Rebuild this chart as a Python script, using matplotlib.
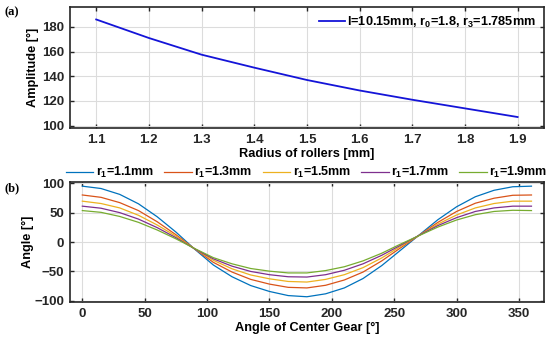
import matplotlib
matplotlib.use("Agg")
import matplotlib.pyplot as plt

# (a) amplitude vs roller radius
radius = [1.1, 1.2, 1.3, 1.4, 1.5, 1.6, 1.7, 1.8, 1.9]
amplitude = [186, 171, 157.5, 147, 137, 128.5, 121, 114, 107]

# (b) output angle vs centre gear angle
gear_angle = [0, 15, 30, 45, 60, 75, 90, 105, 120, 135, 150, 165, 180,
              195, 210, 225, 240, 255, 270, 285, 300, 315, 330, 345, 360]
ang_11 = [95, 91, 81, 65, 43, 17, -12, -39, -59, -74, -84, -91, -93,
          -88, -78, -62, -40, -14, 12, 38, 60, 77, 88, 94, 95]
ang_13 = [80, 76, 67, 53.5, 34.5, 12.5, -11.5, -34.5, -51, -63.5, -71.5, -77, -78,
          -73.5, -64.5, -51, -32, -10, 11.5, 33.5, 52, 66, 74.5, 79.5, 80]
ang_15 = [69.5, 65.5, 58, 45.5, 29, 10, -11.5, -31, -45.5, -56, -62.5, -67, -68,
          -63.5, -55.5, -43.5, -27, -7.5, 11.5, 30.5, 46, 58, 65.5, 69.5, 69.5]
ang_17 = [61, 57.5, 50, 39, 24.5, 7.5, -11.5, -28.5, -41, -50, -55.5, -59, -59.5,
          -55.5, -48, -37, -22.5, -5.5, 11.5, 28, 41.5, 52, 58, 61, 61]
ang_19 = [53.5, 50.5, 43.5, 33.5, 20.5, 5.5, -11, -26.5, -37, -45, -49.5, -52.5, -52.5,
          -48.5, -42, -32, -19, -3.5, 11, 25.5, 37.5, 46.5, 52, 54, 53.5]
series_b = [ang_11, ang_13, ang_15, ang_17, ang_19]
labels_b = ['1.1', '1.3', '1.5', '1.7', '1.9']
colors_b = ['#0072bd', '#d95319', '#edb120', '#7e2f8e', '#77ac30']

plt.rcParams['font.family'] = ['Liberation Sans', 'DejaVu Sans']
plt.rcParams['font.weight'] = 'bold'
plt.rcParams['axes.labelweight'] = 'bold'
plt.rcParams['mathtext.fontset'] = 'custom'
plt.rcParams['mathtext.rm'] = 'Liberation Sans:bold'
plt.rcParams['mathtext.bf'] = 'Liberation Sans:bold'
plt.rcParams['mathtext.default'] = 'bf'

fig = plt.figure(figsize=(5.5, 3.39), dpi=100)
ax1 = fig.add_axes([0.127, 0.622, 0.862, 0.357])
ax2 = fig.add_axes([0.127, 0.109, 0.862, 0.354])

def style(ax):
    ax.tick_params(direction='in', top=True, right=True, labelsize=9.5,
                   length=3, width=1, colors='#262626', pad=4)
    for lab in ax.get_xticklabels() + ax.get_yticklabels():
        lab.set_fontweight('bold')
    for s in ax.spines.values():
        s.set_linewidth(1.2)
        s.set_color('#262626')
    ax.grid(True, color='#dcdcdc', linewidth=0.8)
    ax.set_axisbelow(True)

ax1.plot(radius, amplitude, color='#1414d8', lw=1.3,
         label='l=10.15mm, r$_0$=1.8, r$_3$=1.785mm')
ax1.set_xlim(1.05, 1.95)
ax1.set_ylim(98, 196)
ax1.set_xticks([1.1, 1.2, 1.3, 1.4, 1.5, 1.6, 1.7, 1.8, 1.9])
ax1.set_yticks([100, 120, 140, 160, 180])
ax1.set_xlabel('Radius of rollers [mm]', fontsize=9.2, labelpad=2)
ax1.set_ylabel('Amplitude [°]', fontsize=9.2, labelpad=2)
ax1.legend(loc='upper right', frameon=False, fontsize=9.2, handlelength=2.0,
           handletextpad=0.2, borderaxespad=0.2)
style(ax1)

for vals, lab, c in zip(series_b, labels_b, colors_b):
    ax2.plot(gear_angle, vals, color=c, lw=0.9, label='r$_1$=' + lab + 'mm')
ax2.set_xlim(-10, 370)
ax2.set_ylim(-102, 102)
ax2.set_xticks([0, 50, 100, 150, 200, 250, 300, 350])
ax2.set_yticks([-100, -50, 0, 50, 100])
ax2.set_xlabel('Angle of Center Gear [°]', fontsize=9.2, labelpad=2)
ax2.set_ylabel('Angle [°]', fontsize=9.2, labelpad=0)
ax2.legend(loc='lower center', bbox_to_anchor=(0.5, 0.975), ncol=5, frameon=False,
           fontsize=9, handlelength=2.2, handletextpad=0.2, columnspacing=0.8,
           borderaxespad=0)
style(ax2)

fig.text(0.008, 0.955, '(a)', family='Liberation Serif', fontweight='bold', fontsize=9)
fig.text(0.008, 0.435, '(b)', family='Liberation Serif', fontweight='bold', fontsize=9)

fig.savefig('out.png', dpi=100)
